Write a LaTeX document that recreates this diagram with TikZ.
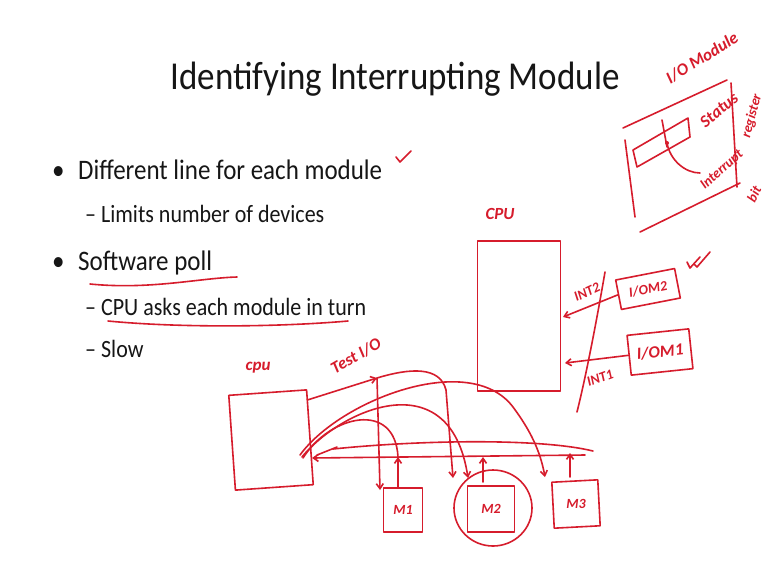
\documentclass[tikz,border=0pt]{standalone}
\usepackage{fontspec}
\usepackage{graphicx}
\setmainfont{Carlito}
\usetikzlibrary{arrows.meta,shapes.geometric}
\definecolor{ink}{RGB}{214,28,44}
\definecolor{slidetext}{RGB}{22,22,22}
% slide lettering is set slightly taller than its natural shape
\newcommand{\tallset}[1]{\scalebox{1}[1.13]{#1}}
\begin{document}
\begin{tikzpicture}[x=1pt,y=-1pt,
  pen/.style={draw=ink,line width=1.6pt,line cap=round,line join=round},
  penarrow/.style={pen,-{Straight Barb[length=5pt,width=7pt]}},
  penbox/.style={pen,rectangle,inner sep=0pt},
  scrawl/.style={text=ink,font=\bfseries\itshape\fontsize{17}{17}\selectfont,inner sep=0pt},
  smallscrawl/.style={scrawl,font=\bfseries\itshape\fontsize{14}{14}\selectfont},
  titletext/.style={anchor=base,inner sep=0pt,text=slidetext,font=\fontsize{35}{35}\selectfont},
  bulletline/.style={anchor=base west,inner sep=0pt,text=slidetext,font=\fontsize{25}{25}\selectfont},
  subline/.style={anchor=base west,inner sep=0pt,text=slidetext,font=\fontsize{22}{22}\selectfont},
]
\useasboundingbox[fill=white] (0,0) rectangle (770,576);

% ---------- slide text ----------
\node[titletext] (title) at (395,89) {\tallset{Identifying Interrupting Module}};

\node[bulletline] (dot1) at (52,179) {\tallset{\textbullet}};
\node[bulletline] (b1) at (78,179) {\tallset{Different line for each module}};
\node[subline] (s1) at (85,222) {\tallset{– Limits number of devices}};
\node[bulletline] (dot2) at (52,270) {\tallset{\textbullet}};
\node[bulletline] (b2) at (78,270) {\tallset{Software poll}};
\node[subline] (s2) at (85,315) {\tallset{– CPU asks each module in turn}};
\node[subline] (s3) at (85,357) {\tallset{– Slow}};

% ---------- marks on the bullets ----------
\draw[pen] (396,157) -- (400,162) -- (411,151);
\draw[pen] (90,284) .. controls (150,290) and (200,278) .. (237,277);
\draw[pen] (108,321) .. controls (180,328) and (280,327) .. (348,321);

% ---------- I/O module with status register ----------
\node[scrawl,rotate=32] (iomod) at (702,58) {I/O Module};
\draw[pen] (623,128) -- (727,80);
\draw[pen] (731,83) -- (737,187);
\draw[pen] (625,140) -- (635,217);
\draw[pen] (640,232) -- (740,183);
\draw[pen] (633,150) -- (688,118) -- (690,137) -- (637,167) -- cycle;
\draw[pen] (662,120) -- (667,147);
\fill[ink] (667,143) circle (2pt);
\draw[pen] (667,143) .. controls (670,160) and (685,173) .. (700,173);
\node[scrawl,rotate=40] (status) at (719,110) {Status};
\node[smallscrawl,rotate=75] (register) at (752,116) {register};
\node[smallscrawl,rotate=42] (intr) at (722,170) {Interrupt};
\node[smallscrawl,rotate=63] (bit) at (754,194) {bit};

% ---------- CPU with separate interrupt lines ----------
\node[scrawl] (cpuBlabel) at (500,214) {CPU};
\node[penbox,minimum width=83pt,minimum height=150pt] (cpuB) at (519,316) {};
\node[penbox,rotate=11,minimum width=60pt,minimum height=30pt] (iom2) at (648,289) {};
\node[smallscrawl,rotate=11] (iom2t) at (648,289) {I/OM2};
\node[penbox,rotate=6,minimum width=62pt,minimum height=40pt] (iom1) at (660,352) {};
\node[scrawl,rotate=6] (iom1t) at (660,352) {I/OM1};
\coordinate (int2in) at (563,317);
\coordinate (int1in) at (565,363);
\draw[penarrow] (iom2.west) -- (int2in);
\draw[penarrow] (iom1.west) -- (int1in);
\coordinate (slashA) at (605,272);
\coordinate (slashB) at (577,412);
\draw[pen] (slashA) .. controls (595,330) and (585,380) .. (slashB);
\node[smallscrawl,rotate=25] (int2) at (587,292) {INT2};
\node[smallscrawl,rotate=20] (int1) at (600,378) {INT1};
\draw[pen] (687,262) -- (690,268) -- (700,257);
\draw[pen] (694,264) -- (697,267) -- (710,252);

% ---------- polling: CPU, bus and modules ----------
\node[scrawl] (cpuSlabel) at (258,368) {cpu};
\node[penbox,rotate=4,minimum width=78pt,minimum height=95pt] (cpuS) at (271,440) {};
\node[penbox,minimum width=39pt,minimum height=44pt] (m1) at (403,510) {};
\node[smallscrawl] (m1t) at (403,510) {M1};
\node[penbox,minimum width=47pt,minimum height=46pt] (m2) at (491,509) {};
\node[smallscrawl] (m2t) at (491,509) {M2};
\node[pen,ellipse,minimum width=78pt,minimum height=76pt,inner sep=0pt] (m2ring) at (493,508) {};
\node[penbox,rotate=3,minimum width=46pt,minimum height=46pt] (m3) at (576,504) {};
\node[smallscrawl] (m3t) at (576,504) {M3};

\coordinate (busL) at (312,458);
\coordinate (busR) at (585,455);
\draw[penarrow] (busR) -- (busL);
\draw[pen] (317,455) -- (337,447);
\draw[pen] (333,449) .. controls (420,440) and (540,438) .. (593,451);

\coordinate (m1up) at (398,457);
\coordinate (m2up) at (483,457);
\coordinate (m3up) at (570,453);
\draw[penarrow] (398,487) -- (m1up);
\draw[penarrow] (483,482) -- (m2up);
\draw[penarrow] (570,477) -- (m3up);

\coordinate (testtip) at (377,378);
\draw[penarrow] (cpuS.north east |- 0,400) -- (testtip);
\node[scrawl,rotate=30] (testio) at (356,356) {Test I/O};
\draw[penarrow] (testtip) -- (380,490);
\draw[penarrow] (testtip) .. controls (410,368) and (440,366) .. (446,390) -- (453,478);
\draw[penarrow] (300,455) .. controls (340,400) and (470,350) .. (513,407) .. controls (530,430) and (540,450) .. (545,477);
\draw[penarrow] (302,457) .. controls (340,410) and (450,360) .. (468,478);
\draw[pen] (303,458) .. controls (330,415) and (395,400) .. (m1up);
\end{tikzpicture}
\end{document}
